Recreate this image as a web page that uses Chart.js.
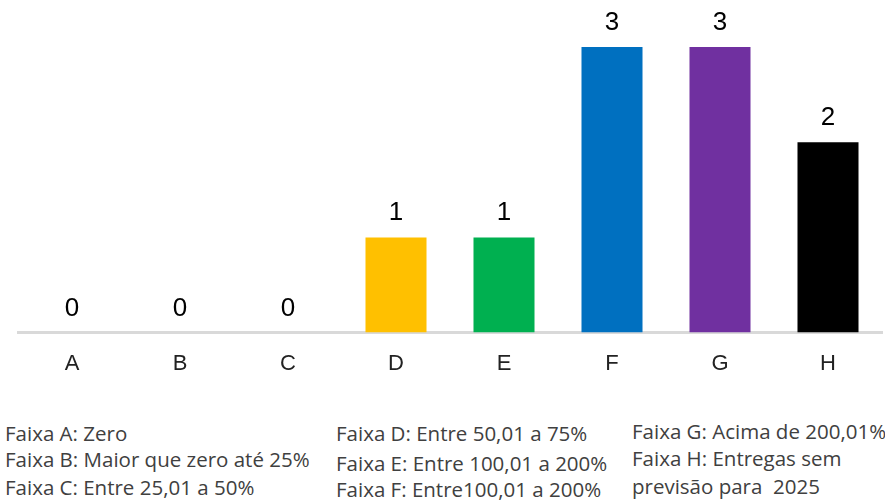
<!DOCTYPE html>
<html>
<head>
<meta charset="utf-8">
<script src="https://cdn.jsdelivr.net/npm/chart.js@4.4.1/dist/chart.umd.min.js"></script>
<style>
  html, body { margin: 0; padding: 0; background: #fff; }
  #wrap { position: relative; width: 885px; height: 501px; overflow: hidden; }
  #grafico { position: absolute; left: 0; top: 0; }
  .faixa { position: absolute; font-family: "Open Sans", sans-serif; font-size: 20.5px;
           line-height: 20px; color: #404040; white-space: pre; }
</style>
</head>
<body>
<div id="wrap">
  <canvas id="grafico" width="885" height="405"></canvas>
</div>
<script>
// dados do gráfico
const categorias = ['A', 'B', 'C', 'D', 'E', 'F', 'G', 'H']
const valores = [0, 0, 0, 1, 1, 3, 3, 2]
const cores = ['#FFC000', '#FFC000', '#FFC000', '#FFC000', '#00B050', '#0070C0', '#7030A0', '#000000']

// textos das faixas (três colunas)
const faixasCol1 = ['Faixa A: Zero', 'Faixa B: Maior que zero até 25%', 'Faixa C: Entre 25,01 a 50%']
const faixasCol2 = ['Faixa D: Entre 50,01 a 75%', 'Faixa E: Entre 100,01 a 200%', 'Faixa F: Entre100,01 a 200%']
const faixasCol3 = ['Faixa G: Acima de 200,01%', 'Faixa H: Entregas sem', 'previsão para  2025']

// escreve os valores em cima das barras
const rotulosValores = {
  id: 'rotulosValores',
  afterDatasetsDraw(chart) {
    const ctx = chart.ctx
    const meta = chart.getDatasetMeta(0)
    ctx.save()
    ctx.font = '26px "Liberation Sans", Arial, sans-serif'
    ctx.fillStyle = '#000'
    ctx.textAlign = 'center'
    ctx.textBaseline = 'alphabetic'
    meta.data.forEach((barra, i) => {
      ctx.fillText(String(valores[i]), barra.x, barra.y - 17)
    })
    ctx.restore()
  }
}

const ctx = document.getElementById('grafico')

let grafico = new Chart(ctx, {
  type: 'bar',
  data: {
    labels: categorias,
    datasets: [{
      data: valores,
      backgroundColor: cores,
      borderWidth: 0,
      categoryPercentage: 1,
      barPercentage: 0.565
    }]
  },
  options: {
    responsive: false,
    animation: false,
    layout: { padding: { left: 18, right: 3, top: 47, bottom: 10 } },
    plugins: { legend: { display: false }, tooltip: { enabled: false } },
    scales: {
      y: { display: false, min: 0, max: 3 },
      x: {
        grid: { display: false, drawTicks: false },
        border: { display: true, color: '#d9d9d9', width: 3 },
        ticks: {
          padding: 18,
          color: '#222',
          font: { family: '"Liberation Sans", Arial, sans-serif', size: 22 }
        }
      }
    }
  },
  plugins: [rotulosValores]
})

// monta as legendas das faixas
const wrap = document.getElementById('wrap')
function colocaColuna(textos, x, baselines) {
  textos.forEach((t, i) => {
    const d = document.createElement('div')
    d.className = 'faixa'
    d.textContent = t
    d.style.left = x + 'px'
    d.style.top = (baselines[i] - 18) + 'px'
    wrap.appendChild(d)
  })
}
colocaColuna(faixasCol1, 5, [441, 467, 495])
colocaColuna(faixasCol2, 336, [441, 471, 497])
colocaColuna(faixasCol3, 632, [439, 466, 494])
</script>
</body>
</html>
